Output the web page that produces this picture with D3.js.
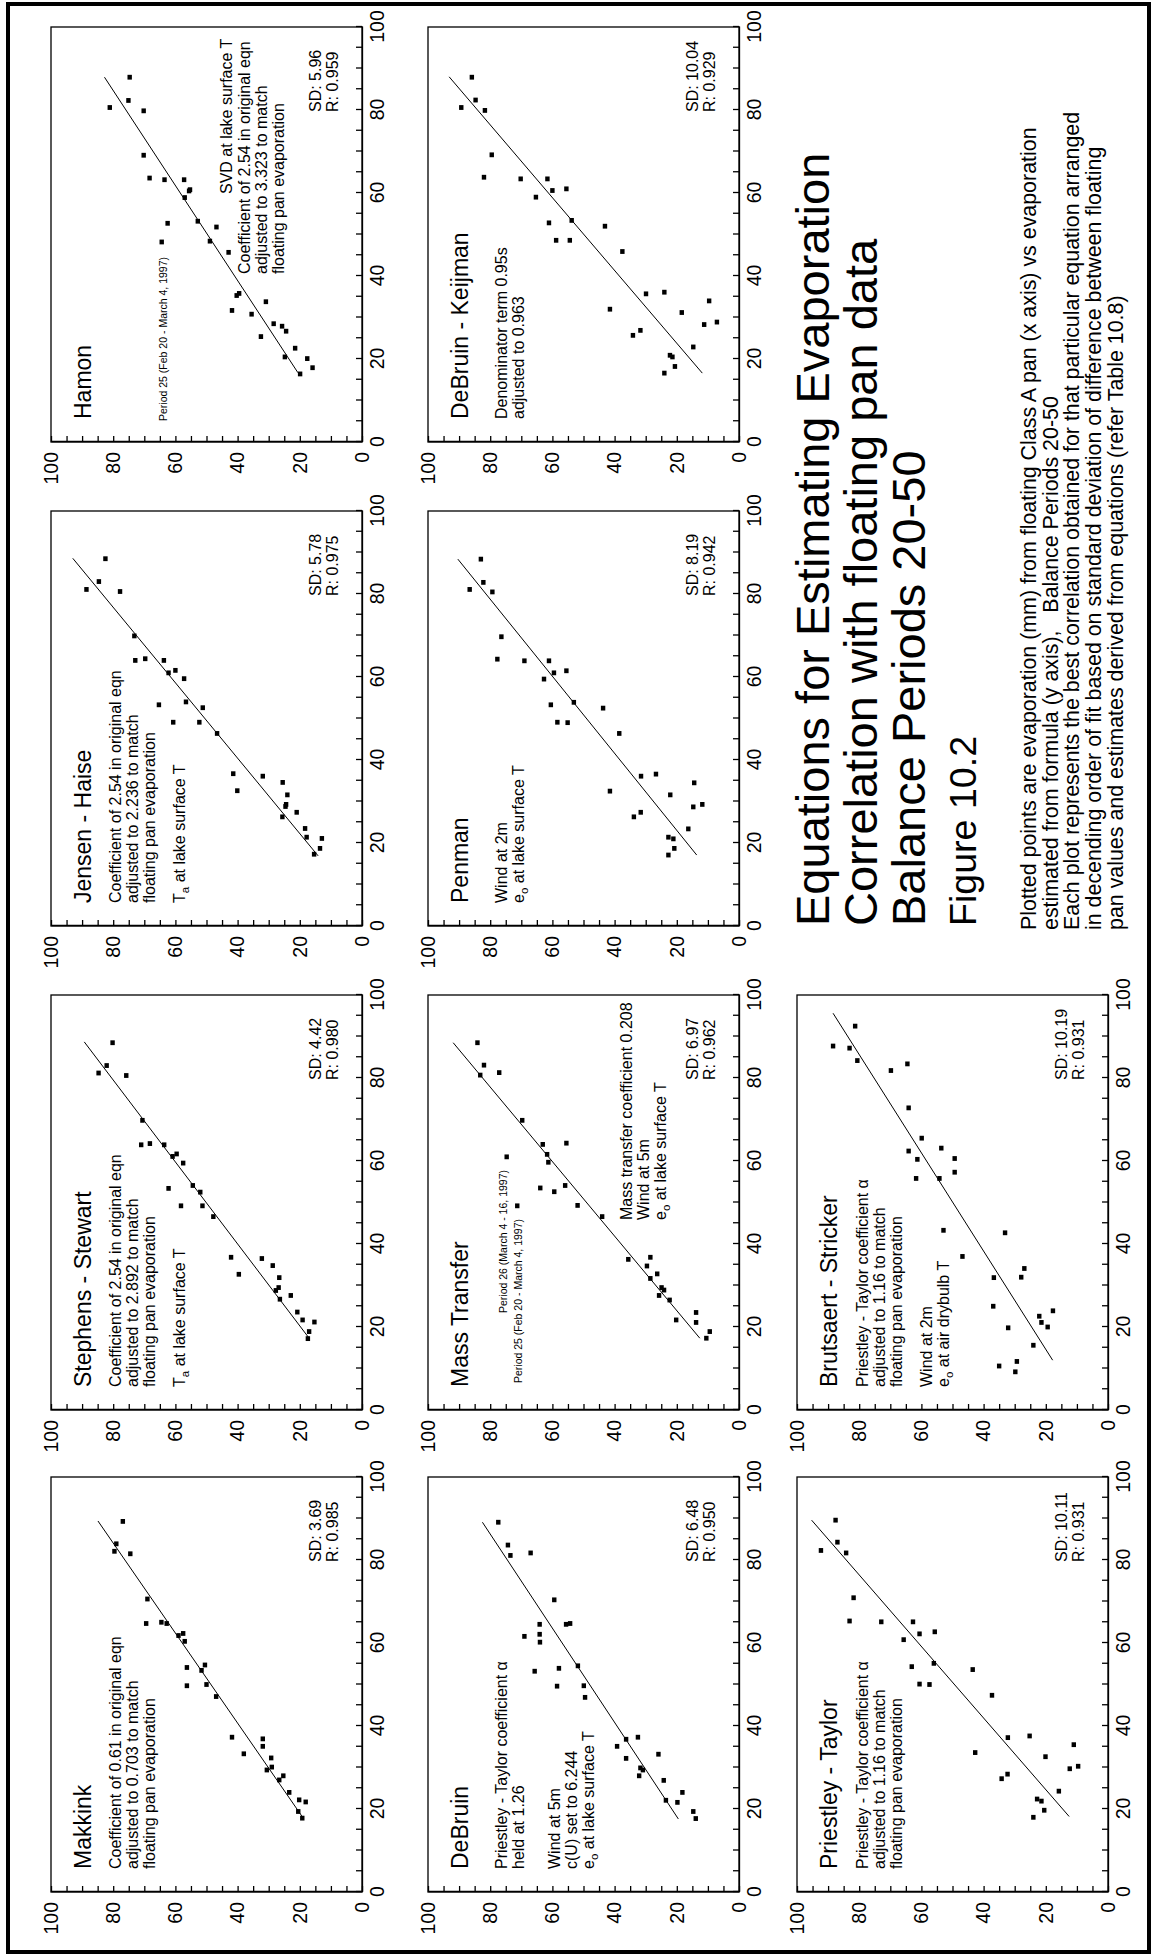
<!DOCTYPE html>
<html>
<head>
<meta charset="utf-8">
<script src="https://cdn.jsdelivr.net/npm/d3@7"></script>
<style>
body { margin: 0; background: #fff; }
svg text { font-family: "Liberation Sans", Arial, sans-serif; fill: #000; }
svg .tick text { font-family: "Liberation Sans Narrow", "Arial Narrow", "Liberation Sans", sans-serif; }
</style>
</head>
<body>
<svg id="chart"></svg>
<script>
// Points are [pan evaporation (x), formula estimate (y)] in mm
const makkinkPts = [[89.3,76.9],[83.9,79.0],[82.1,79.6],[81.5,74.5],[70.6,69.0],[64.7,69.4],[65.0,64.5],[64.7,62.8],[61.8,59.0],[62.3,57.5],[60.4,57.0],[54.1,56.3],[49.7,56.3],[53.4,51.6],[54.7,50.5],[50.0,50.0],[47.1,46.9],[37.3,41.8],[33.3,38.0],[36.9,31.9],[35.1,31.9],[32.3,29.2],[30.1,29.0],[29.4,30.6],[27.0,26.6],[28.0,25.3],[24.0,23.4],[22.2,20.2],[21.7,18.1],[19.4,20.5],[17.8,19.2]];
const makkinkFit = [[17.7,18.8],[89.4,84.9]];

const stephensPts = [[88.5,80.2],[83.0,82.1],[81.2,84.7],[80.6,75.8],[69.8,70.6],[63.9,71.0],[64.2,68.2],[63.9,63.6],[61.1,60.9],[61.7,59.6],[59.5,57.5],[53.4,62.2],[54.1,54.4],[52.5,52.0],[49.2,58.2],[49.2,51.3],[46.6,47.8],[36.8,42.1],[32.7,39.6],[36.5,32.2],[34.8,28.7],[31.9,26.6],[29.5,26.8],[28.8,27.7],[26.7,26.4],[27.6,22.9],[23.6,20.8],[21.7,19.1],[21.2,15.3],[18.9,17.0],[17.2,17.4]];
const stephensFit = [[17.2,16.9],[88.7,89.3]];

const jensenPts = [[88.5,82.5],[83.0,84.6],[81.1,88.6],[80.6,77.8],[69.9,73.2],[64.0,72.9],[64.4,69.7],[64.0,63.7],[61.0,62.2],[61.6,60.0],[59.6,57.2],[53.3,65.3],[54.0,56.6],[52.6,51.2],[49.1,60.7],[49.1,52.3],[46.4,46.6],[36.7,41.4],[32.6,40.1],[36.1,31.9],[34.6,25.5],[31.6,24.0],[29.3,24.4],[28.8,24.6],[26.3,25.6],[27.4,21.0],[23.5,18.3],[21.4,17.8],[21.1,12.9],[18.7,13.5],[17.3,15.4]];
const jensenFit = [[16.9,14.1],[88.6,93.0]];

const hamonPts = [[87.9,74.7],[80.6,81.1],[82.3,75.1],[79.8,70.2],[69.1,70.2],[63.6,68.3],[63.2,63.5],[63.2,57.2],[58.9,57.0],[60.5,55.6],[60.8,55.3],[53.2,52.8],[51.8,46.8],[48.4,48.9],[45.7,42.9],[52.7,62.5],[48.2,64.4],[35.8,39.5],[35.3,40.3],[31.7,41.8],[30.8,35.5],[33.8,30.9],[28.5,28.4],[27.9,25.7],[26.7,24.4],[25.4,32.5],[22.6,21.5],[20.5,24.8],[20.1,17.6],[17.9,15.9],[16.4,19.9]];
const hamonFit = [[16.7,20.6],[87.9,82.8]];

const debruinPts = [[89.1,77.4],[83.6,74.3],[81.1,73.5],[81.7,67.0],[70.4,59.4],[64.5,64.1],[64.5,55.6],[64.7,54.3],[61.6,69.0],[62.1,64.1],[60.2,64.0],[53.2,65.7],[53.9,57.9],[54.5,51.8],[49.6,58.5],[49.7,49.9],[46.9,49.5],[35.1,39.2],[36.8,36.3],[37.3,32.5],[32.2,36.3],[33.2,25.9],[29.9,31.7],[29.4,30.9],[28.0,32.1],[26.9,24.2],[24.0,18.2],[22.1,23.5],[21.6,19.8],[19.4,14.7],[17.7,13.9]];
const debruinFit = [[17.6,19.5],[89.1,82.5]];

const massPts = [[88.5,84.1],[83.1,82.0],[80.7,83.2],[81.3,77.1],[69.8,69.7],[64.0,63.1],[64.3,55.5],[61.6,61.7],[59.7,61.3],[61.0,74.7],[53.5,63.9],[52.6,59.4],[54.1,55.9],[49.2,71.3],[49.3,51.9],[46.6,44.0],[36.3,35.6],[36.8,28.5],[34.7,29.6],[32.8,26.3],[31.7,28.5],[29.5,24.9],[28.9,24.1],[27.6,25.7],[26.5,22.3],[23.5,13.8],[21.7,20.2],[21.1,13.8],[18.9,9.4],[17.3,10.5]];
const massFit = [[17.3,12.6],[88.5,91.9]];

const penmanPts = [[88.4,83.0],[81.1,86.6],[82.8,82.2],[80.5,79.3],[69.7,76.4],[64.3,77.7],[63.9,69.0],[63.9,61.1],[59.5,62.7],[61.0,59.5],[61.5,55.5],[53.3,60.5],[53.9,53.1],[49.1,58.4],[49.0,55.1],[52.5,43.7],[46.4,38.5],[36.1,31.5],[36.6,26.7],[32.5,41.5],[31.6,22.1],[34.5,14.4],[29.3,11.8],[28.7,14.7],[27.4,31.6],[26.3,33.8],[23.4,16.3],[21.4,22.7],[21.0,21.1],[18.7,20.8],[17.1,22.7]];
const penmanFit = [[17.1,13.6],[88.4,90.4]];

const keijmanPts = [[87.9,85.9],[80.6,89.3],[82.4,84.7],[79.9,81.7],[69.2,79.5],[63.8,82.0],[63.4,70.2],[59.0,65.3],[63.4,61.6],[60.6,60.0],[61.0,55.5],[52.8,61.1],[53.4,53.8],[48.6,58.8],[48.6,54.4],[52.0,43.1],[45.9,37.5],[35.7,29.9],[36.1,24.0],[32.0,41.5],[31.2,18.4],[34.0,9.6],[28.9,7.1],[28.3,11.2],[26.9,31.7],[25.7,34.1],[22.9,14.7],[20.9,22.2],[20.5,21.4],[18.2,20.6],[16.6,24.0]];
const keijmanFit = [[16.6,11.8],[88.0,93.2]];

const priestleyPts = [[82.3,92.3],[89.6,87.6],[84.3,87.0],[81.7,84.2],[70.9,81.8],[65.3,83.1],[65.1,72.9],[60.8,65.7],[65.1,62.7],[62.2,60.6],[62.7,55.7],[54.3,63.1],[50.1,60.6],[50.0,57.4],[55.1,56.0],[53.6,43.5],[47.4,37.3],[37.2,32.2],[37.6,25.2],[33.6,42.7],[27.3,34.2],[28.4,32.3],[32.6,20.1],[35.5,11.0],[29.7,12.3],[30.3,9.6],[24.3,15.8],[22.4,22.8],[21.9,21.4],[19.7,20.5],[18.0,24.0]];
const priestleyFit = [[18.2,12.5],[89.6,95.3]];

const brutsaertPts = [[92.5,81.3],[87.7,88.4],[87.2,83.1],[84.2,80.6],[81.8,69.8],[83.4,64.5],[72.8,64.1],[65.5,59.9],[62.4,64.1],[60.4,61.3],[63.1,53.6],[60.6,49.3],[57.3,49.3],[55.8,61.7],[55.8,54.2],[43.3,52.9],[42.7,33.1],[37.0,46.8],[34.1,26.9],[32.0,27.9],[31.9,36.7],[25.0,36.9],[23.9,17.7],[22.6,22.1],[21.1,21.4],[20.0,19.4],[19.8,32.1],[15.6,24.0],[10.6,35.0],[11.7,29.3],[9.2,29.8]];
const brutsaertFit = [[12.0,17.8],[95.6,88.4]];

const tickValues = d3.range(0, 101, 5);
const titleLines = ['Equations for Estimating Evaporation', 'Correlation with floating pan data', 'Balance Periods 20-50'];
const descLines = [
    'Plotted points are evaporation (mm) from floating Class A pan (x axis) vs evaporation',
    'estimated from formula (y axis),   Balance Periods 20-50',
    'Each plot represents the best correlation obtained for that particular equation arranged',
    'in decending order of fit based on standard deviation of difference between floating',
    'pan values and estimates derived from equations (refer Table 10.8)'
];

const coefLines = (v) => ['Coefficient of 2.54 in original eqn', `adjusted to ${v} to match`, 'floating pan evaporation'];

const panels = [
    { title: 'Makkink', pts: makkinkPts, fit: makkinkFit, sd: '3.69', r: '0.985', col: 0, row: 0,
      notes: [{ x: 23, y: 70, lines: ['Coefficient of 0.61 in original eqn', 'adjusted to 0.703 to match', 'floating pan evaporation'] }] },
    { title: 'Stephens - Stewart', pts: stephensPts, fit: stephensFit, sd: '4.42', r: '0.980', col: 1, row: 0,
      notes: [{ x: 23, y: 70, lines: coefLines('2.892') }, { x: 23, y: 134, lines: ['T_a at lake surface T'] }] },
    { title: 'Jensen - Haise', pts: jensenPts, fit: jensenFit, sd: '5.78', r: '0.975', col: 2, row: 0,
      notes: [{ x: 23, y: 70, lines: coefLines('2.236') }, { x: 23, y: 134, lines: ['T_a at lake surface T'] }] },
    { title: 'Hamon', pts: hamonPts, fit: hamonFit, sd: '5.96', r: '0.959', col: 3, row: 0,
      notes: [{ x: 21, y: 116, small: true, lines: ['Period 25 (Feb 20 - March 4, 1997)'] },
              { x: 248, y: 181, lines: ['SVD at lake surface T'] },
              { x: 168, y: 199, lines: ['Coefficient of 2.54 in original eqn', 'adjusted to 3.323 to match', 'floating pan evaporation'] }] },
    { title: 'DeBruin', pts: debruinPts, fit: debruinFit, sd: '6.48', r: '0.950', col: 0, row: 1,
      notes: [{ x: 23, y: 79, lines: ['Priestley - Taylor coefficient \u03b1', 'held at 1.26'] },
              { x: 23, y: 132, lines: ['Wind at 5m', 'c(U) set to 6.244', 'e_o at lake surface T'] }] },
    { title: 'Mass Transfer', pts: massPts, fit: massFit, sd: '6.97', r: '0.962', col: 1, row: 1,
      notes: [{ x: 97, y: 79, small: true, lines: ['Period 26 (March 4 - 16, 1997)'] },
              { x: 27, y: 94, small: true, lines: ['Period 25 (Feb 20 - March 4, 1997)'] },
              { x: 190, y: 204, lines: ['Mass transfer coefficient 0.208', 'Wind at 5m', 'e_o at lake surface T'] }] },
    { title: 'Penman', pts: penmanPts, fit: penmanFit, sd: '8.19', r: '0.942', col: 2, row: 1,
      notes: [{ x: 23, y: 79, lines: ['Wind at 2m', 'e_o at lake surface T'] }] },
    { title: 'DeBruin - Keijman', pts: keijmanPts, fit: keijmanFit, sd: '10.04', r: '0.929', col: 3, row: 1,
      notes: [{ x: 23, y: 79, lines: ['Denominator term 0.95s', 'adjusted to 0.963'] }] },
    { title: 'Priestley - Taylor', pts: priestleyPts, fit: priestleyFit, sd: '10.11', r: '0.931', col: 0, row: 2,
      notes: [{ x: 23, y: 71, lines: ['Priestley - Taylor coefficient \u03b1', 'adjusted to 1.16 to match', 'floating pan evaporation'] }] },
    { title: 'Brutsaert - Stricker', pts: brutsaertPts, fit: brutsaertFit, sd: '10.19', r: '0.931', col: 1, row: 2,
      notes: [{ x: 23, y: 71, lines: ['Priestley - Taylor coefficient \u03b1', 'adjusted to 1.16 to match', 'floating pan evaporation'] },
              { x: 23, y: 135, lines: ['Wind at 2m', 'e_o at air drybulb T'] }] }
];

// Page is drawn in landscape and turned a quarter turn anticlockwise
const pageW = 1956, pageH = 1154;
const PW = 415, PH = 311;
const colX = [64, 546, 1030, 1514];
const rowY = [51, 428, 797];

const svg = d3.select('#chart')
    .attr('width', pageH)
    .attr('height', pageW);

const page = svg.append('g')
    .attr('transform', `translate(0,${pageW}) rotate(-90)`);

page.append('rect')
    .attr('x', 4).attr('y', 8)
    .attr('width', pageW - 8).attr('height', pageH - 13)
    .attr('fill', 'none').attr('stroke', '#000').attr('stroke-width', 4);

const xScale = d3.scaleLinear().domain([0, 100]).range([0, PW]);
const yScale = d3.scaleLinear().domain([0, 100]).range([PH, 0]);

// writes a line with "_x" turned into a subscript
function richText(sel, str) {
    const parts = str.split(/_(\w)/);
    parts.forEach((p, i) => {
        if (i % 2 === 1) {
            sel.append('tspan').attr('dy', 4).attr('font-size', '0.72em').text(p);
        } else if (p) {
            sel.append('tspan').attr('dy', i ? -4 : 0).text(p);
        }
    });
}

panels.forEach(p => {
    const g = page.append('g')
        .attr('transform', `translate(${colX[p.col]},${rowY[p.row]})`);

    // box
    g.append('rect')
        .attr('width', PW).attr('height', PH)
        .attr('fill', 'none').attr('stroke', '#000').attr('stroke-width', 1.3);

    const fmt = d => (d % 20 === 0 ? d : '');

    const xAxis = g.append('g')
        .attr('transform', `translate(0,${PH})`)
        .call(d3.axisBottom(xScale).tickValues(tickValues).tickFormat(fmt)
            .tickSizeInner(-6).tickSizeOuter(0).tickPadding(8));

    const yAxis = g.append('g')
        .call(d3.axisLeft(yScale).tickValues(tickValues).tickFormat(fmt)
            .tickSizeInner(-6).tickSizeOuter(0).tickPadding(10));

    [xAxis, yAxis].forEach(a => {
        a.attr('font-family', null).attr('font-size', null);
        a.selectAll('path, line').attr('stroke', '#000').attr('stroke-width', 1.3);
        a.selectAll('text').attr('font-size', 19.5);
    });

    // regression line
    g.append('line')
        .attr('x1', xScale(p.fit[0][0])).attr('y1', yScale(p.fit[0][1]))
        .attr('x2', xScale(p.fit[1][0])).attr('y2', yScale(p.fit[1][1]))
        .attr('stroke', '#000').attr('stroke-width', 1);

    // points
    g.selectAll('.pt')
        .data(p.pts)
        .enter()
        .append('rect')
        .attr('class', 'pt')
        .attr('x', d => xScale(d[0]) - 2.4)
        .attr('y', d => yScale(d[1]) - 2.2)
        .attr('width', 4.8)
        .attr('height', 4.4)
        .attr('fill', '#000');

    g.append('text')
        .attr('x', 23).attr('y', 40)
        .attr('font-size', 23)
        .text(p.title);

    p.notes.forEach(n => {
        const size = n.small ? 10.5 : 16;
        const step = n.small ? 12 : 17;
        n.lines.forEach((line, i) => {
            const t = g.append('text')
                .attr('x', n.x).attr('y', n.y + i * step)
                .attr('font-size', size);
            richText(t, line);
        });
    });

    g.append('text')
        .attr('x', 330).attr('y', 270)
        .attr('font-size', 16)
        .text(`SD: ${p.sd}`);
    g.append('text')
        .attr('x', 330).attr('y', 287)
        .attr('font-size', 16)
        .text(`R: ${p.r}`);
});

// heading block in the empty corner
const head = page.append('g');

head.selectAll('.title')
    .data(titleLines)
    .enter()
    .append('text')
    .attr('class', 'title')
    .attr('x', 1030)
    .attr('y', (d, i) => 829 + i * 48)
    .attr('font-size', 47)
    .text(d => d);

head.append('text')
    .attr('x', 1030).attr('y', 976)
    .attr('font-size', 37.6)
    .text('Figure 10.2');

head.selectAll('.desc')
    .data(descLines)
    .enter()
    .append('text')
    .attr('class', 'desc')
    .attr('x', 1026)
    .attr('y', (d, i) => 1036 + i * 21.7)
    .attr('font-size', 21.4)
    .style('white-space', 'pre')
    .text(d => d);
</script>
</body>
</html>
